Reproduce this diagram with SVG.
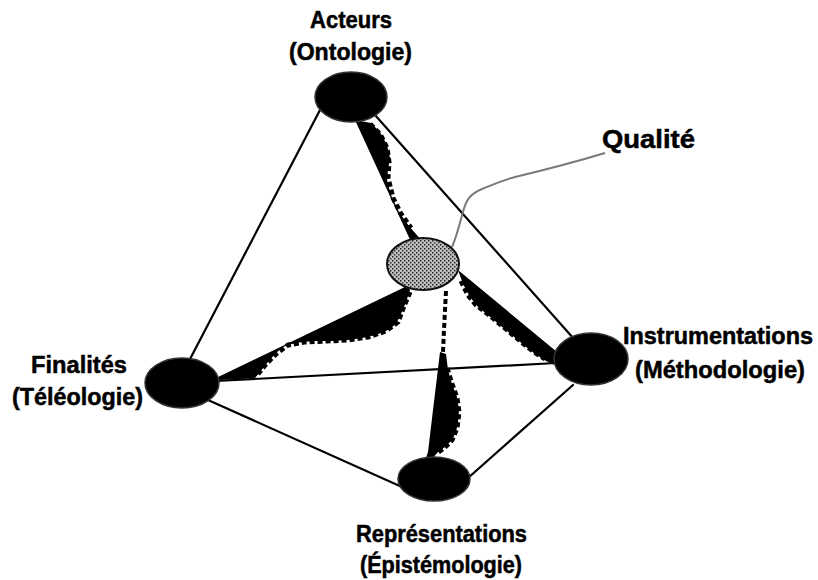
<svg xmlns="http://www.w3.org/2000/svg" width="818" height="580" viewBox="0 0 818 580">
<defs>
<pattern id="stip" width="4" height="4" patternUnits="userSpaceOnUse">
<rect width="4" height="4" fill="#c0c0c0"/>
<rect x="0" y="0" width="1.5" height="1.5" fill="#222"/>
<rect x="2" y="2" width="1.5" height="1.5" fill="#333"/>
</pattern>
<style>
.lbl{font-family:"Liberation Sans",Arial,sans-serif;font-weight:bold;font-size:23px;fill:#000;stroke:#000;stroke-width:0.5}
.edge{stroke:#000;stroke-width:2.2;fill:none;stroke-linecap:round}
.wedge{fill:#000;stroke:none}
.dots{fill:none;stroke:#000;stroke-width:5;stroke-dasharray:5 3}
.node{fill:#000;stroke:#333;stroke-width:1.5}
</style>
</defs>
<rect width="818" height="580" fill="#fff"/>
<g id="connectors">
<line class="edge" x1="320" y1="110" x2="189" y2="361"/>
<line class="edge" x1="375" y1="115" x2="574" y2="339"/>
<line class="edge" x1="216" y1="381" x2="556" y2="363"/>
<line class="edge" x1="208" y1="400" x2="402" y2="487"/>
<line class="edge" x1="573" y1="385" x2="468" y2="478"/>
<!-- Acteurs - Qualite wedge -->
<polygon class="wedge" points="355,120 371,123 380,132 387,145 390,158 388,170 387,180 391,195 399,212 409,226 422,241 416,246 412,244"/>
<path class="dots" d="M370,124 L380,134 L387,148 L389,162 L388,178 L393,198 L401,214 L411,228"/>
<!-- Qualite - Finalites wedge -->
<polygon class="wedge" points="407,286 410,290 406,302 401,314 396,324 388,330 376,335 362,338 348,340 332,341 316,341 302,342 292,344 283,347 276,353 268,362 260,372 255,378 240,379 220,380 216,378"/>
<path class="dots" d="M410,292 L404,306 L398,322 L386,331 L368,337 L348,340 L326,341 L304,342 L288,345 L276,354 L266,364 L258,374"/>
<!-- Qualite - Instrumentations wedge -->
<polygon class="wedge" points="458,270 557,352 557,366 546,361 535,354 525,346 513,336 501,326 489,316 478,307 470,297 463,284"/>
<path class="dots" d="M461,281 L468,295 L476,305 L488,314 L500,324 L512,334 L524,344 L534,352 L545,359"/>
<!-- Qualite - Representations wedge -->
<path class="dots" d="M446,291 L445,310 L444,330 L443,352" style="stroke-width:4"/>
<polygon class="wedge" points="440,352 446,354 448,370 452,384 457,397 459,410 458,422 456,432 452,440 445,447 438,452 432,459 425,461 428,452 433,410"/>
<path class="dots" d="M447,368 L452,384 L457,398 L459,412 L457,428 L452,440 L444,448 L437,453"/>
<!-- callout -->
<path d="M452,247 C457,236 460,222 463,212 C466,200 470,194 482,189 C492,185 500,181 515,177 C540,171 572,163 605,153" fill="none" stroke="#7a7a7a" stroke-width="2"/>
</g>
<g id="node-acteurs">
<ellipse class="node" cx="351" cy="97" rx="36" ry="25"/>
<text class="lbl" x="310" y="28" textLength="82" lengthAdjust="spacingAndGlyphs">Acteurs</text>
<text class="lbl" x="289" y="60" textLength="123" lengthAdjust="spacingAndGlyphs">(Ontologie)</text>
</g>
<g id="node-qualite">
<ellipse cx="423" cy="264" rx="36" ry="26" fill="url(#stip)" stroke="#111" stroke-width="2"/>
<text class="lbl" x="602" y="148" style="font-size:25px" textLength="93" lengthAdjust="spacingAndGlyphs">Qualité</text>
</g>
<g id="node-finalites">
<ellipse class="node" cx="182" cy="383" rx="37" ry="25"/>
<text class="lbl" x="31" y="373" textLength="96" lengthAdjust="spacingAndGlyphs">Finalités</text>
<text class="lbl" x="12" y="405" textLength="131" lengthAdjust="spacingAndGlyphs">(Téléologie)</text>
</g>
<g id="node-instrumentations">
<ellipse class="node" cx="591" cy="359" rx="37" ry="26"/>
<text class="lbl" x="623" y="344" textLength="190" lengthAdjust="spacingAndGlyphs">Instrumentations</text>
<text class="lbl" x="635" y="378" textLength="170" lengthAdjust="spacingAndGlyphs">(Méthodologie)</text>
</g>
<g id="node-representations">
<ellipse class="node" cx="434" cy="479" rx="36" ry="22"/>
<text class="lbl" x="356" y="542" textLength="171" lengthAdjust="spacingAndGlyphs">Représentations</text>
<text class="lbl" x="360" y="573" textLength="162" lengthAdjust="spacingAndGlyphs">(Épistémologie)</text>
</g>
</svg>
